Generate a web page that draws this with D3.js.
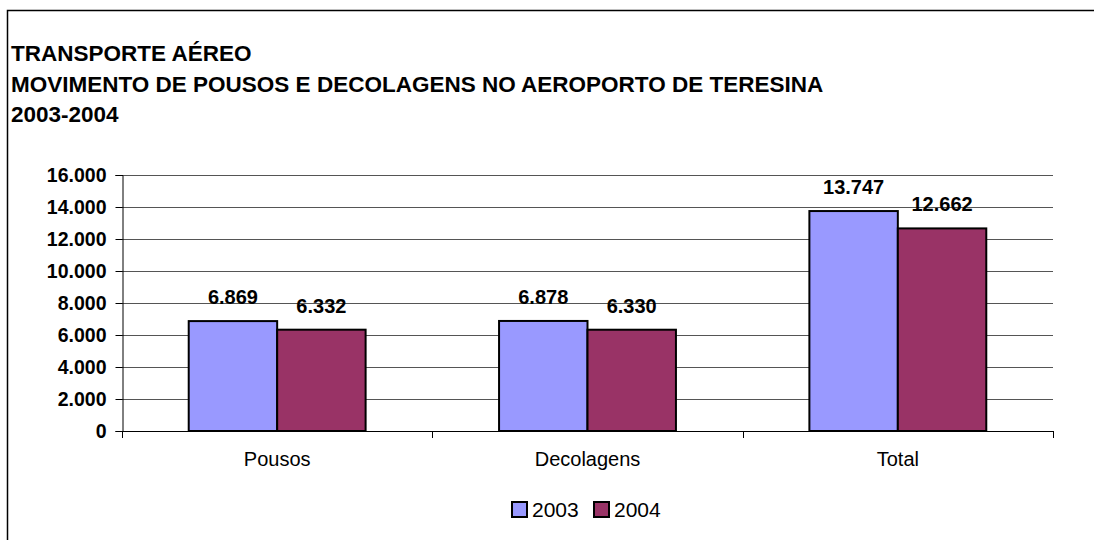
<!DOCTYPE html>
<html>
<head>
<meta charset="utf-8">
<script src="https://cdn.jsdelivr.net/npm/d3@7"></script>
<style>
  body { margin: 0; background: #fff; }
  text { font-family: "Liberation Sans", Arial, sans-serif; }
</style>
</head>
<body>
<svg id="canvas"></svg>
<script>
let categories = ["Pousos", "Decolagens", "Total"];
let years = ["2003", "2004"];
let values2003 = [6869, 6878, 13747];
let values2004 = [6332, 6330, 12662];
let yTicks = [0, 2000, 4000, 6000, 8000, 10000, 12000, 14000, 16000];
let titleLines = ["TRANSPORTE AÉREO", "MOVIMENTO DE POUSOS E DECOLAGENS NO AEROPORTO DE TERESINA", "2003-2004"];
let colors = ["#9999ff", "#993366"];

let width = 1094;
let height = 540;
let plotLeft = 122, plotRight = 1053, plotTop = 175, plotBottom = 431;

let canvas = d3.select("#canvas")
  .attr("width", width)
  .attr("height", height);

let ptBr = d3.formatLocale({decimal: ",", thousands: ".", grouping: [3], currency: ["", ""]});
let fmt = ptBr.format(",d");

// outer frame (only top and left edges are visible)
canvas.append("path")
      .attr("d", "M7.5,540 V10.5 H1094")
      .attr("fill", "none")
      .attr("stroke", "#000")
      .attr("stroke-width", 1.5);

// title
canvas.append("g")
      .selectAll("text")
      .data(titleLines)
      .enter()
      .append("text")
      .attr("x", 11)
      .attr("y", (d, i) => 61 + i * 30.5)
      .attr("font-size", "22.5px")
      .attr("font-weight", "bold")
      .text((d) => d);

let xScale = d3.scaleBand()
               .domain(categories)
               .range([plotLeft, plotRight])
               .paddingInner(0.43)
               .paddingOuter(0.215);

let xInner = d3.scaleBand()
               .domain(years)
               .range([0, xScale.bandwidth()]);

let yScale = d3.scaleLinear()
               .domain([0, 16000])
               .range([plotBottom, plotTop]);

// gridlines
canvas.append("g")
      .selectAll("line")
      .data(yTicks.filter((t) => t > 0))
      .enter()
      .append("line")
      .attr("x1", plotLeft)
      .attr("x2", plotRight)
      .attr("y1", (d) => Math.round(yScale(d)) + 0.5)
      .attr("y2", (d) => Math.round(yScale(d)) + 0.5)
      .attr("stroke", "#555")
      .attr("stroke-width", 1);

// y axis
let yAxis = d3.axisLeft(yScale)
              .tickValues(yTicks)
              .tickFormat(fmt)
              .tickSize(7)
              .tickPadding(9);

let yG = canvas.append("g")
      .attr("id", "y-axis")
      .attr("transform", "translate(" + (plotLeft + 0.5) + ",0)")
      .call(yAxis);
yG.selectAll("text")
  .attr("font-size", "19.5px")
  .attr("font-weight", "bold")
  .attr("font-family", "Liberation Sans, Arial, sans-serif")
  .attr("fill", "#000");
yG.select(".domain").attr("stroke", "#000");

// bars
let rows = [];
categories.forEach((c, i) => {
  rows.push({cat: c, year: "2003", value: values2003[i], color: colors[0]});
  rows.push({cat: c, year: "2004", value: values2004[i], color: colors[1]});
});

canvas.append("g")
      .selectAll("rect")
      .data(rows)
      .enter()
      .append("rect")
      .attr("x", (d) => xScale(d.cat) + xInner(d.year))
      .attr("y", (d) => yScale(d.value))
      .attr("width", xInner.bandwidth())
      .attr("height", (d) => plotBottom - yScale(d.value))
      .attr("fill", (d) => d.color)
      .attr("stroke", "#000")
      .attr("stroke-width", 2);

// value labels
canvas.append("g")
      .selectAll("text")
      .data(rows)
      .enter()
      .append("text")
      .attr("x", (d) => xScale(d.cat) + xInner(d.year) + xInner.bandwidth() / 2)
      .attr("y", (d) => yScale(d.value) - 17)
      .attr("text-anchor", "middle")
      .attr("font-size", "20px")
      .attr("font-weight", "bold")
      .text((d) => fmt(d.value));

// x axis
let step = xScale.step();
let xAxisG = canvas.append("g").attr("id", "x-axis");
xAxisG.append("line")
      .attr("x1", plotLeft)
      .attr("x2", plotRight)
      .attr("y1", plotBottom + 0.5)
      .attr("y2", plotBottom + 0.5)
      .attr("stroke", "#000");
xAxisG.selectAll(".xtick")
      .data(d3.range(categories.length + 1))
      .enter()
      .append("line")
      .attr("class", "xtick")
      .attr("x1", (i) => Math.round(plotLeft + i * step) + 0.5)
      .attr("x2", (i) => Math.round(plotLeft + i * step) + 0.5)
      .attr("y1", plotBottom)
      .attr("y2", plotBottom + 7)
      .attr("stroke", "#000");
xAxisG.selectAll("text")
      .data(categories)
      .enter()
      .append("text")
      .attr("x", (d) => xScale(d) + xScale.bandwidth() / 2)
      .attr("y", 466)
      .attr("text-anchor", "middle")
      .attr("font-size", "20px")
      .text((d) => d);

// legend
let legend = canvas.append("g").attr("transform", "translate(512,502)");
let items = legend.selectAll("g")
      .data(years)
      .enter()
      .append("g")
      .attr("transform", (d, i) => "translate(" + (i * 82) + ",0)");
items.append("rect")
     .attr("width", 15)
     .attr("height", 15)
     .attr("fill", (d, i) => colors[i])
     .attr("stroke", "#000")
     .attr("stroke-width", 2);
items.append("text")
     .attr("x", 20)
     .attr("y", 14.5)
     .attr("font-size", "21px")
     .text((d) => d);
</script>
</body>
</html>
